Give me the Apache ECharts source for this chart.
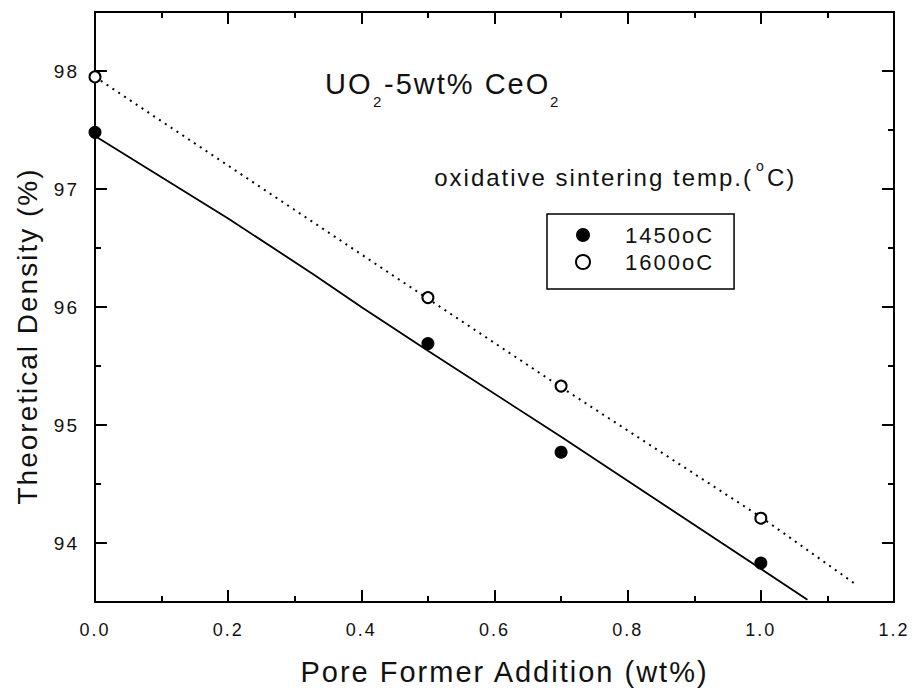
<!DOCTYPE html>
<html>
<head>
<meta charset="utf-8">
<script src="https://cdn.jsdelivr.net/npm/echarts@6/dist/echarts.min.js"></script>
<style>
  html, body { margin: 0; padding: 0; background: #fff; }
  #chart { width: 914px; height: 695px; }
  /* the original lettering is set a bit wide */
  #chart text { letter-spacing: 2px; }
</style>
</head>
<body>
<div id="chart"></div>
<script>
// measured points
var seriesNames = ['1450oC', '1600oC'];
var addition = [0.0, 0.5, 0.7, 1.0];
var density1450 = [97.48, 95.69, 94.77, 93.83];
var density1600 = [97.95, 96.08, 95.33, 94.21];

// fitted lines
var fit1450X = [0.0, 0.2, 0.33, 0.4, 0.5, 0.7, 1.07];
var fit1450Y = [97.45, 96.75, 96.27, 96.0, 95.63, 94.9, 93.52];
var fit1600X = [0.0, 0.5, 0.7, 1.0, 1.14];
var fit1600Y = [97.95, 96.07, 95.32, 94.22, 93.66];

// tick values
var yMajorTicks = [94, 95, 96, 97, 98];
var yMinorTicks = [94.5, 95.5, 96.5, 97.5];

var font = 'Liberation Sans';

function pairs(xs, ys) {
    var out = [];
    for (var i = 0; i < xs.length; i++) {
        out.push([xs[i], ys[i]]);
    }
    return out;
}

var chart = echarts.init(document.getElementById('chart'), null, { renderer: 'svg' });

var lineAxis = { show: true, lineStyle: { color: '#000', width: 2 } };

function yAxisDef(pos, ticks, len, labels) {
    return {
        type: 'value',
        position: pos,
        min: 93.5,
        max: 98.5,
        axisLine: lineAxis,
        axisTick: { show: true, inside: true, length: len, customValues: ticks, lineStyle: { color: '#000', width: 2 } },
        axisLabel: labels ? {
            show: true, customValues: ticks, margin: 16,
            fontSize: 19, color: '#111', fontFamily: font
        } : { show: false },
        splitLine: { show: false }
    };
}

function xAxisDef(pos, labels) {
    return {
        type: 'value',
        position: pos,
        min: 0,
        max: 1.2,
        interval: 0.2,
        axisLine: lineAxis,
        axisTick: { show: true, inside: true, length: 12, lineStyle: { color: '#000', width: 2 } },
        minorTick: { show: true, splitNumber: 2, length: 6, lineStyle: { color: '#000', width: 2 } },
        axisLabel: labels ? {
            show: true, margin: 19, fontSize: 18, color: '#111', fontFamily: font,
            formatter: function (v) { return v.toFixed(1); }
        } : { show: false },
        splitLine: { show: false },
        minorSplitLine: { show: false }
    };
}

var xBottom = xAxisDef('bottom', true);
xBottom.name = 'Pore Former Addition (wt%)';
xBottom.nameLocation = 'middle';
xBottom.nameGap = 55;
xBottom.nameTextStyle = { fontSize: 29, color: '#111', fontFamily: font, padding: [0, 0, 0, 20] };

function txt(x, y, s, size, align) {
    return {
        type: 'text',
        x: x,
        y: y,
        style: {
            text: s,
            font: size + 'px "Liberation Sans"',
            fill: '#111',
            align: align || 'left',
            textAlign: align || 'left',
            verticalAlign: 'middle',
            textVerticalAlign: 'middle'
        }
    };
}

var yName = txt(27, 336, 'Theoretical Density (%)', 28, 'center');
yName.rotation = Math.PI / 2;

var option = {
    backgroundColor: '#fff',
    animation: false,
    grid: { left: 95, right: 20, top: 12, bottom: 93 },
    xAxis: [xBottom, xAxisDef('top', false)],
    yAxis: [
        yAxisDef('left', yMajorTicks, 12, true),
        yAxisDef('left', yMinorTicks, 6, false),
        yAxisDef('right', yMajorTicks, 12, false),
        yAxisDef('right', yMinorTicks, 6, false)
    ],
    legend: {
        data: seriesNames,
        orient: 'vertical',
        left: 547,
        top: 214,
        padding: [10, 32, 16, 28],
        itemGap: 5,
        itemWidth: 14,
        itemHeight: 14,
        borderColor: '#000',
        borderWidth: 1.5,
        textStyle: { fontSize: 22, color: '#111', fontFamily: font, padding: [0, 0, 0, 30] }
    },
    graphic: [
        yName,
        // title: UO2-5wt% CeO2
        txt(325, 84, 'UO', 29),
        txt(373, 101, '2', 15),
        txt(384, 84, '-5wt% CeO', 29),
        txt(550, 101, '2', 15),
        // oxidative sintering temp.(oC)
        txt(753, 177, 'oxidative sintering temp.(', 24, 'right'),
        txt(756, 166, 'o', 14),
        txt(767, 177, 'C)', 24)
    ],
    series: [
        {
            name: 'fit1450',
            type: 'line',
            data: pairs(fit1450X, fit1450Y),
            showSymbol: false,
            lineStyle: { color: '#000', width: 1.8 },
            z: 2
        },
        {
            name: 'fit1600',
            type: 'line',
            data: pairs(fit1600X, fit1600Y),
            showSymbol: false,
            lineStyle: { color: '#000', width: 2, type: [2, 5] },
            z: 2
        },
        {
            name: seriesNames[0],
            type: 'scatter',
            data: pairs(addition, density1450),
            symbol: 'circle',
            symbolSize: 13,
            itemStyle: { color: '#000', opacity: 1 },
            z: 3
        },
        {
            name: seriesNames[1],
            type: 'scatter',
            data: pairs(addition, density1600),
            symbol: 'emptyCircle',
            symbolSize: 11,
            itemStyle: { color: '#000', borderColor: '#000', borderWidth: 1.5, opacity: 1 },
            z: 3
        }
    ]
};

chart.setOption(option);
</script>
</body>
</html>
